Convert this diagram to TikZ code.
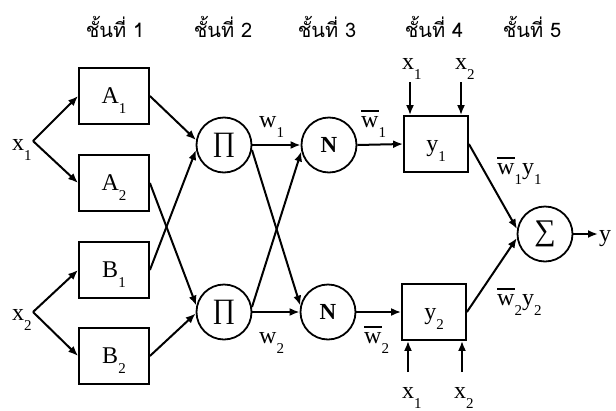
\documentclass[tikz,border=0pt]{standalone}
\usepackage{fontspec}
\setmainfont{Liberation Serif}
\newfontfamily\thaifont[Script=Thai]{Loma}
\usetikzlibrary{arrows.meta}
\newcommand\sbs[2]{#1\raisebox{-10pt}{\fontsize{15}{15}\selectfont #2}}
\newcommand\wb{\vbox{\hrule height 1.5pt\kern 4pt\hbox{w}}}
\tikzset{
  lbl/.style={inner sep=0pt, font=\fontsize{24}{24}\selectfont},
  head/.style={inner sep=0pt, anchor=base, font=\thaifont\fontsize{20}{20}\selectfont},
  blk/.style={draw, line width=1.8pt, minimum width=70pt, minimum height=56pt, inner sep=0pt,
              text height=18pt, text depth=4pt, font=\fontsize{24}{24}\selectfont},
  circ/.style={draw, circle, line width=1.8pt, minimum size=55pt, inner sep=0pt},
  arr/.style={line width=2pt, -{Latex[length=10pt,width=8pt]}},
}
\begin{document}
\begin{tikzpicture}[x=1pt,y=-1pt]
\useasboundingbox (0,0) rectangle (616,410);
% headers
\node[head] (h1) at (115,37) {ชั้นที่ 1};
\node[head] (h2) at (223,37) {ชั้นที่ 2};
\node[head] (h3) at (327,37) {ชั้นที่ 3};
\node[head] (h4) at (434,37) {ชั้นที่ 4};
\node[head] (h5) at (532,37) {ชั้นที่ 5};
% layer 1
\node[blk] (A1) at (114,96) {\sbs{A}{1}};
\node[blk] (A2) at (114,183) {\sbs{A}{2}};
\node[blk] (B1) at (114,270) {\sbs{B}{1}};
\node[blk] (B2) at (114,356) {\sbs{B}{2}};
\coordinate (J1) at (33,141);
\coordinate (J2) at (33,312);
\node[lbl, anchor=base west] (lx1) at (12,150) {\sbs{x}{1}};
\node[lbl, anchor=base west] (lx2) at (12,320) {\sbs{x}{2}};
\draw[arr] (J1) -- (A1.west);
\draw[arr] (J1) -- (A2.west);
\draw[arr] (J2) -- (B1.west);
\draw[arr] (J2) -- (B2.west);
% layer 2
\node[circ, font=\fontsize{28}{28}\selectfont] (P1) at (224,145) {∏};
\node[circ, font=\fontsize{28}{28}\selectfont] (P2) at (224,312) {∏};
\draw[arr] (A1.east) -- (P1.170);
\draw[arr] (B1.east) -- (P1.190);
\draw[arr] (A2.east) -- (P2.167);
\draw[arr] (B2.east) -- (P2.183);
% layer 3
\node[circ, font=\fontsize{23}{23}\selectfont\bfseries] (N1) at (329,145) {N};
\node[circ, font=\fontsize{23}{23}\selectfont\bfseries] (N2) at (328,312) {N};
\draw[arr] (P1.east) -- (N1.west);
\draw[arr] (P2.east) -- (N2.west);
\draw[arr] (P1.-10) -- (N2.167);
\draw[arr] (P2.10) -- (N1.193);
\node[lbl, anchor=base west] (w1) at (259,127) {\sbs{w}{1}};
\node[lbl, anchor=base west] (w2) at (259,343) {\sbs{w}{2}};
\node[lbl, anchor=base west] (wb1) at (361,127) {\sbs{\wb}{1}};
\node[lbl, anchor=base west] (wb2) at (364,343) {\sbs{\wb}{2}};
% layer 4
\node[blk, minimum width=64pt] (Y1) at (436,144) {\sbs{y}{1}};
\node[blk, minimum width=64pt] (Y2) at (434,312) {\sbs{y}{2}};
\draw[arr] (N1.east) -- (Y1.west);
\draw[arr] (N2.east) -- (Y2.west);
\node[lbl, anchor=base west] (tx1) at (402,69) {\sbs{x}{1}};
\node[lbl, anchor=base west] (tx2) at (455,69) {\sbs{x}{2}};
\node[lbl, anchor=base west] (bx1) at (402,398) {\sbs{x}{1}};
\node[lbl, anchor=base west] (bx2) at (454,398) {\sbs{x}{2}};
\coordinate (t1) at (410,82);
\coordinate (t2) at (461,82);
\coordinate (b1) at (408,372);
\coordinate (b2) at (462,372);
\draw[arr] (t1) -- (t1 |- Y1.north);
\draw[arr] (t2) -- (t2 |- Y1.north);
\draw[arr] (b1) -- (b1 |- Y2.south);
\draw[arr] (b2) -- (b2 |- Y2.south);
% layer 5
\node[circ, font=\fontsize{30}{30}\selectfont] (S) at (545,234) {∑};
\draw[arr] (Y1.east) -- (S.170);
\draw[arr] (Y2.east) -- (S.188);
\node[lbl, anchor=base west] (wy1) at (497,174) {\sbs{\wb}{1}\sbs{y}{1}};
\node[lbl, anchor=base west] (wy2) at (497,305) {\sbs{\wb}{2}\sbs{y}{2}};
\coordinate (out) at (598,234);
\node[lbl, anchor=base west] (ly) at (599,241) {y};
\draw[arr] (S.east) -- (out);
\end{tikzpicture}
\end{document}
